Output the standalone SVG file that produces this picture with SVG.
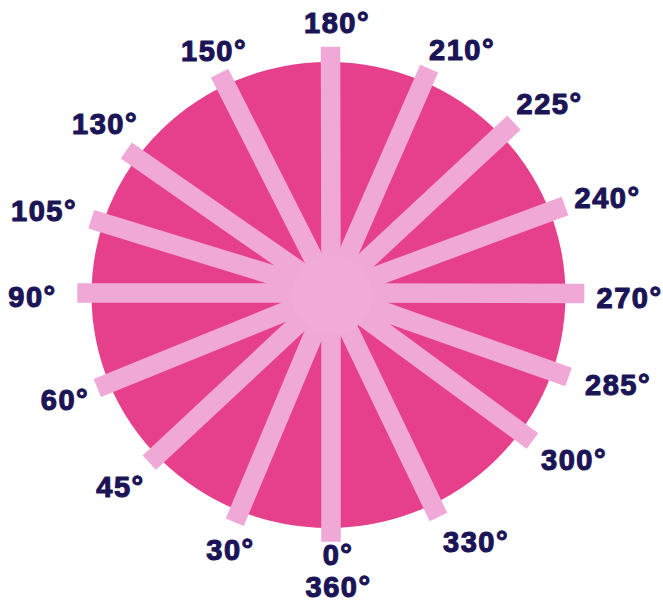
<svg xmlns="http://www.w3.org/2000/svg" width="663" height="601" viewBox="0 0 663 601">
  <style>
    .spoke { stroke: #F0A8D6; stroke-width: 19.5; stroke-linecap: butt; fill: none; }
    .lbl { font-family: "Liberation Sans", Arial, sans-serif; font-weight: bold; font-size: 29px; letter-spacing: 1.5px; fill: #1B1456; stroke: #1B1456; stroke-width: 1.1px; stroke-linejoin: round; text-anchor: middle; }
  </style>
  <rect width="663" height="601" fill="#ffffff"/>
  <g id="disc">
    <ellipse cx="328.5" cy="295" rx="237" ry="233" fill="#E6408D"/>
  </g>
  <g id="spokes">
    <line class="spoke" x1="331" y1="293" x2="331" y2="541.7"/>
    <line class="spoke" x1="331" y1="293" x2="234.7" y2="522.3"/>
    <line class="spoke" x1="331" y1="293" x2="149.3" y2="462.7"/>
    <line class="spoke" x1="331" y1="293" x2="97.3" y2="388"/>
    <line class="spoke" x1="331" y1="293" x2="77.3" y2="293"/>
    <line class="spoke" x1="331" y1="293" x2="91.3" y2="219.2"/>
    <line class="spoke" x1="331" y1="293" x2="126.3" y2="150.5"/>
    <line class="spoke" x1="331" y1="293" x2="219.6" y2="73.2"/>
    <line class="spoke" x1="331" y1="293" x2="330.5" y2="46.7"/>
    <line class="spoke" x1="331" y1="293" x2="429.2" y2="68.7"/>
    <line class="spoke" x1="331" y1="293" x2="514" y2="122.7"/>
    <line class="spoke" x1="331" y1="293" x2="565" y2="206"/>
    <line class="spoke" x1="331" y1="293" x2="584.3" y2="293.5"/>
    <line class="spoke" x1="331" y1="293" x2="568.5" y2="377"/>
    <line class="spoke" x1="331" y1="293" x2="532.5" y2="441"/>
    <line class="spoke" x1="331" y1="293" x2="438.5" y2="517"/>
    <circle cx="332" cy="295" r="40" fill="#F1ABD8"/>
  </g>
  <g id="labels">
    <text class="lbl" x="337" y="32.5">180°</text>
    <text class="lbl" x="214" y="60.5">150°</text>
    <text class="lbl" x="462" y="60">210°</text>
    <text class="lbl" x="549.5" y="114">225°</text>
    <text class="lbl" x="105" y="133.5">130°</text>
    <text class="lbl" x="44" y="221">105°</text>
    <text class="lbl" x="607.5" y="208">240°</text>
    <text class="lbl" x="32.5" y="307">90°</text>
    <text class="lbl" x="629.5" y="308">270°</text>
    <text class="lbl" x="65" y="409.5">60°</text>
    <text class="lbl" x="618" y="395">285°</text>
    <text class="lbl" x="120.5" y="497">45°</text>
    <text class="lbl" x="574" y="470">300°</text>
    <text class="lbl" x="230.5" y="560">30°</text>
    <text class="lbl" x="476" y="552">330°</text>
    <text class="lbl" x="338" y="565">0°</text>
    <text class="lbl" x="338.5" y="596.5">360°</text>
  </g>
</svg>
